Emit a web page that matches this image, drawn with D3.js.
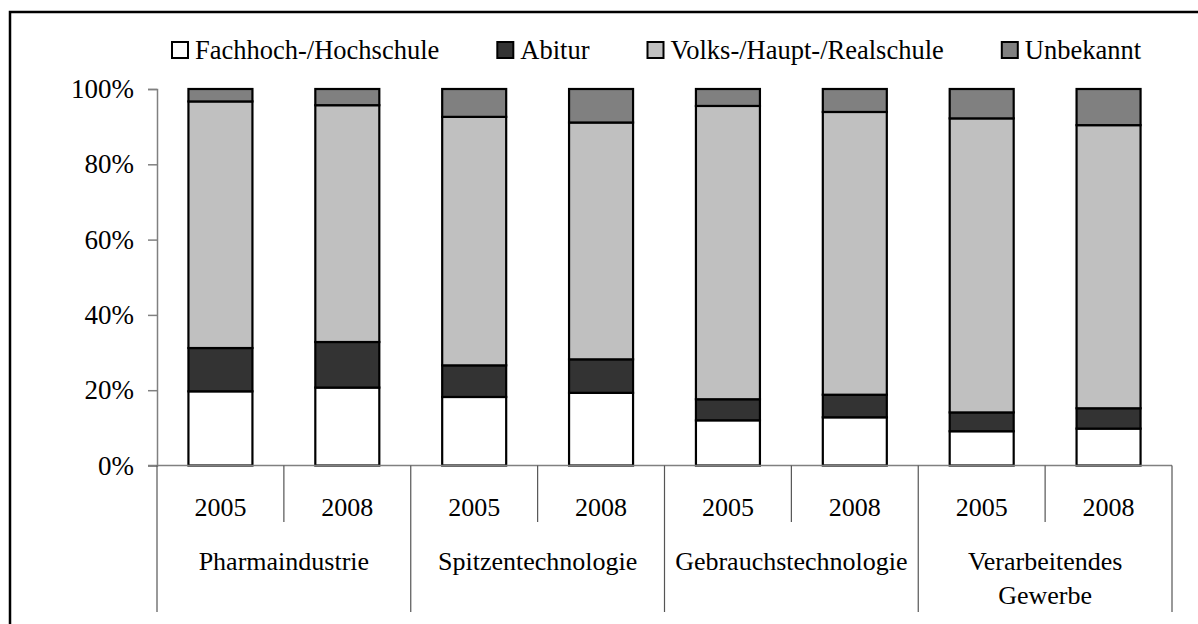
<!DOCTYPE html>
<html>
<head>
<meta charset="utf-8">
<script src="https://cdn.jsdelivr.net/npm/d3@7"></script>
<style>
  html, body { margin: 0; padding: 0; background: #fff; }
  svg { display: block; }
  svg text { font-family: "Liberation Serif", "Times New Roman", Times, serif !important; fill: #000; }
</style>
</head>
<body>
<svg id="chart" width="1198" height="624"></svg>
<script>
// ---- data ----
const categories = ["Pharmaindustrie", "Spitzentechnologie", "Gebrauchstechnologie", "Verarbeitendes Gewerbe"];
const years = ["2005", "2008"];
const seriesNames = ["Fachhoch-/Hochschule", "Abitur", "Volks-/Haupt-/Realschule", "Unbekannt"];
// values per bar (order: Pharma 2005, Pharma 2008, Spitzen 2005, Spitzen 2008, Gebrauch 2005, Gebrauch 2008, Verarb 2005, Verarb 2008)
const hochschule = [19.7, 20.7, 18.2, 19.3, 12.0, 12.8, 9.1, 9.8];
const abitur     = [11.5, 12.1, 8.4, 8.9, 5.6, 6.0, 5.0, 5.4];
const volks      = [65.5, 62.9, 66.0, 62.9, 77.9, 75.1, 78.1, 75.2];
const unbekannt  = [3.3, 4.3, 7.4, 8.9, 4.5, 6.1, 7.8, 9.6];
const yTicks = [0, 20, 40, 60, 80, 100];
const colors = ["#ffffff", "#333333", "#c0c0c0", "#808080"];

(function () {
const FONT = "'Liberation Serif', 'Times New Roman', serif";
// ---- build table ----
const bars = [];
categories.forEach((c, ci) => years.forEach((yr, yi) => {
  const i = ci * years.length + yi;
  bars.push({ key: c + "|" + yr, cat: c, year: yr,
    "Fachhoch-/Hochschule": hochschule[i], "Abitur": abitur[i],
    "Volks-/Haupt-/Realschule": volks[i], "Unbekannt": unbekannt[i] });
}));

const svg = d3.select("#chart");
const pLeft = 157, pRight = 1172, pTop = 89, pBottom = 465.5;

// outer frame
svg.append("rect").attr("x", 10).attr("y", 12).attr("width", 1300).attr("height", 800)
  .attr("fill", "none").attr("stroke", "#000").attr("stroke-width", 2.5);

const x = d3.scaleBand().domain(bars.map(d => d.key)).range([pLeft, pRight]).paddingInner(0).paddingOuter(0);
const y = d3.scaleLinear().domain([0, 100]).range([pBottom, pTop]);
const barW = 64;

const stack = d3.stack().keys(seriesNames)(bars);

// bars
const g = svg.append("g");
stack.forEach((layer, li) => {
  g.selectAll(null).data(layer).enter().append("rect")
    .attr("x", d => x(d.data.key) + (x.bandwidth() - barW) / 2)
    .attr("y", d => y(d[1]))
    .attr("width", barW)
    .attr("height", d => y(d[0]) - y(d[1]))
    .attr("fill", colors[li])
    .attr("stroke", "#000")
    .attr("stroke-width", 2.2);
});

// y axis
const yAxis = svg.append("g").attr("transform", `translate(${pLeft},0)`)
  .call(d3.axisLeft(y).tickValues(yTicks).tickFormat(d => d + "%").tickSize(9).tickPadding(14));
yAxis.attr("font-family", null).attr("font-size", null);
yAxis.select(".domain").attr("stroke", "#808080").attr("stroke-width", 1.5);
yAxis.selectAll(".tick line").attr("stroke", "#808080").attr("stroke-width", 1.5);
yAxis.selectAll(".tick text").style("font-size", "27px").style("font-family", FONT).attr("fill", "#000");

// x axis baseline
svg.append("line").attr("x1", pLeft - 9).attr("x2", pRight).attr("y1", pBottom).attr("y2", pBottom)
  .attr("stroke", "#808080").attr("stroke-width", 1.5);

// year separators (within category)
const sepG = svg.append("g");
bars.forEach((d, i) => {
  if (i % 2 === 1) {
    sepG.append("line").attr("x1", x(d.key)).attr("x2", x(d.key))
      .attr("y1", pBottom).attr("y2", 522).attr("stroke", "#555").attr("stroke-width", 1.2);
  }
});
// category separators
const catEdges = categories.map(c => x(c + "|" + years[0]));
catEdges.push(pRight);
catEdges.forEach(xe => {
  sepG.append("line").attr("x1", xe).attr("x2", xe)
    .attr("y1", pBottom).attr("y2", 612).attr("stroke", "#555").attr("stroke-width", 1.2);
});

// year labels
svg.append("g").selectAll("text").data(bars).enter().append("text")
  .attr("x", d => x(d.key) + x.bandwidth() / 2)
  .attr("y", 507).attr("dy", "0.35em")
  .attr("text-anchor", "middle").style("font-size", "26px").style("font-family", FONT)
  .text(d => d.year);

// category labels
const catLines = { "Verarbeitendes Gewerbe": ["Verarbeitendes", "Gewerbe"] };
categories.forEach(c => {
  const cx = x(c + "|" + years[0]) + x.bandwidth();
  const lines = catLines[c] || [c];
  const t = svg.append("text").attr("x", cx).attr("y", 561).attr("text-anchor", "middle")
    .style("font-size", "26px").style("font-family", FONT);
  lines.forEach((ln, li) => {
    t.append("tspan").attr("x", cx).attr("dy", li === 0 ? "0.35em" : 34).text(ln);
  });
});

// legend
const lg = svg.append("g");
let lx = 172;
seriesNames.forEach((s, i) => {
  lg.append("rect").attr("x", lx).attr("y", 42).attr("width", 16).attr("height", 16)
    .attr("fill", colors[i]).attr("stroke", "#000").attr("stroke-width", 2);
  const t = lg.append("text").attr("x", lx + 23).attr("y", 50).attr("dy", "0.35em")
    .style("font-size", "26.5px").style("font-family", FONT).text(s);
  const w = t.node().getComputedTextLength();
  lx = lx + 23 + w + 58;
});
})();
</script>
</body>
</html>
